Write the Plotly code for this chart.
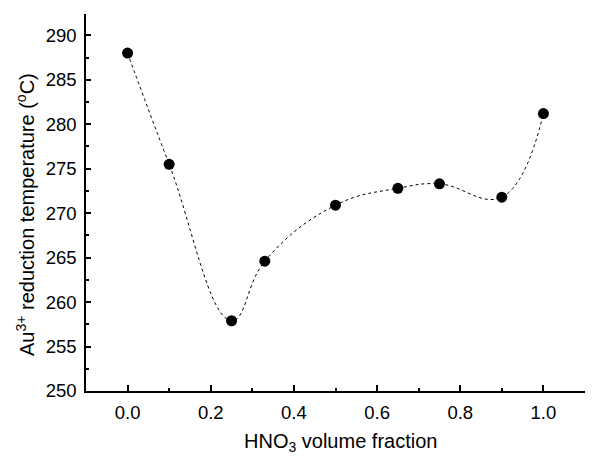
import plotly.graph_objects as go

hno3_fraction = [0.0, 0.1, 0.25, 0.33, 0.5, 0.65, 0.75, 0.9, 1.0]
reduction_temp = [288.0, 275.5, 257.9, 264.6, 270.9, 272.8, 273.3, 271.8, 281.2]

x_ticks = [0.0, 0.2, 0.4, 0.6, 0.8, 1.0]
x_tick_labels = ["0.0", "0.2", "0.4", "0.6", "0.8", "1.0"]
y_ticks = [250, 255, 260, 265, 270, 275, 280, 285, 290]

FONT = "Liberation Sans, Arial, sans-serif"
W, H = 596, 456
ML, MR, MT, MB = 86, 11, 14, 65
PH = H - MT - MB

fig = go.Figure()
fig.add_trace(go.Scatter(
    x=hno3_fraction, y=reduction_temp, mode="lines",
    line=dict(color="black", width=1, dash="3px,3px", shape="spline", smoothing=1.2),
    hoverinfo="skip", showlegend=False,
))
fig.add_trace(go.Scatter(
    x=hno3_fraction, y=reduction_temp, mode="markers",
    marker=dict(color="black", size=11),
    showlegend=False,
))

fig.update_layout(
    width=W, height=H,
    margin=dict(l=ML, r=MR, t=MT, b=MB),
    paper_bgcolor="white", plot_bgcolor="white",
    font=dict(family=FONT, size=18.5, color="black"),
    xaxis=dict(
        range=[-0.1, 1.1], tickvals=x_ticks, ticktext=x_tick_labels,
        ticks="inside", ticklen=6, tickwidth=1.5, tickcolor="black",
        minor=dict(dtick=0.1, tick0=0, ticks="inside", ticklen=3, tickwidth=1.5, tickcolor="black"),
        showline=True, linecolor="black", linewidth=1.5,
        showgrid=False, zeroline=False, mirror=False,
        tickfont=dict(size=18.5), ticklabelstandoff=4,
    ),
    yaxis=dict(
        range=[250, 292.4], tickvals=y_ticks,
        ticks="inside", ticklen=5, tickwidth=1.5, tickcolor="black",
        minor=dict(dtick=2.5, tick0=250, ticks="inside", ticklen=3, tickwidth=1.5, tickcolor="black"),
        showline=True, linecolor="black", linewidth=1.5,
        showgrid=False, zeroline=False, mirror=False,
        tickfont=dict(size=18.5), ticklabelstandoff=4,
    ),
    annotations=[
        dict(text="HNO<sub>3</sub> volume fraction", xref="paper", yref="paper",
             x=(340 - ML) / (W - ML - MR), y=(H - MB - 442) / PH,
             xanchor="center", yanchor="middle", showarrow=False,
             font=dict(size=20)),
        dict(text="Au<sup>3+</sup> reduction temperature (<sup>o</sup>C)", xref="paper", yref="paper",
             x=(25 - ML) / (W - ML - MR), y=(H - MB - 215) / PH,
             xanchor="center", yanchor="middle", textangle=-90, showarrow=False,
             font=dict(size=20)),
    ],
)

fig.write_html(
    "out.html",
    config={"displayModeBar": False},
    post_script="document.body.style.margin='0';document.body.style.overflow='hidden';",
)
